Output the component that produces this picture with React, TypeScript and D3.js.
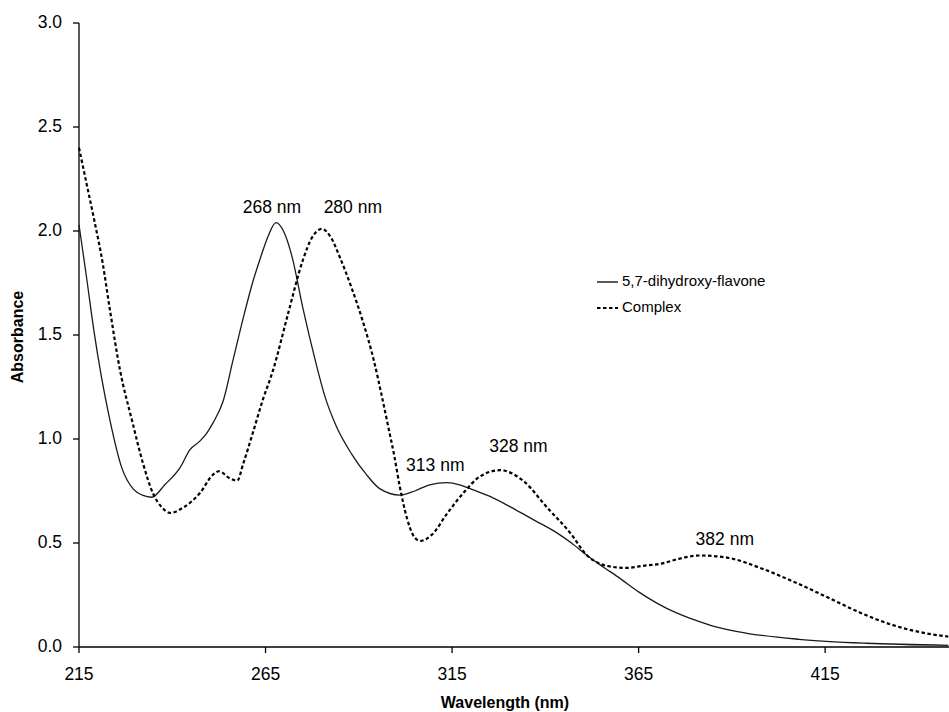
import React from "react";
import * as d3 from "d3";

// 5,7-dihydroxy-flavone (solid line)
const flavoneWl = [215, 217, 219, 221, 223.3, 226.5, 229.5, 232, 234.5, 238, 242, 244.8, 247.4, 249.3, 251, 253.6, 256.3, 259, 261.5, 263.8, 265.8, 267.8, 269.8, 272.2, 275, 278.3, 281, 284, 288, 292, 295.7, 301, 305, 309, 313.6, 317, 320, 325, 331, 337, 343, 347, 351.2, 355.5, 360, 365, 370, 375, 380, 386, 394, 408, 426, 448];
const flavoneAbs = [2.03, 1.78, 1.52, 1.3, 1.09, 0.86, 0.76, 0.73, 0.72, 0.78, 0.86, 0.95, 0.99, 1.03, 1.08, 1.18, 1.38, 1.58, 1.75, 1.88, 1.98, 2.04, 2.0, 1.87, 1.63, 1.38, 1.2, 1.06, 0.93, 0.83, 0.76, 0.73, 0.75, 0.78, 0.79, 0.78, 0.76, 0.725, 0.67, 0.61, 0.55, 0.5, 0.44, 0.385, 0.33, 0.265, 0.21, 0.165, 0.13, 0.095, 0.066, 0.037, 0.018, 0.008];

// Complex (dashed line)
const complexWl = [215, 217, 219, 221.4, 223.3, 226, 229.2, 232.2, 234.8, 237.3, 239.4, 242.9, 247.4, 251, 252.5, 255.5, 257.4, 259, 261.6, 264.3, 267, 271, 275, 277.5, 280.1, 282.5, 285, 288, 291, 294, 296, 298, 299.5, 301, 302.9, 304.5, 306.4, 309.6, 313.6, 318, 322.5, 327.9, 334, 340.5, 346.6, 351.2, 354.7, 358, 361.9, 366, 370.8, 376, 381.5, 388.7, 397.6, 406.4, 415.5, 424.4, 433.2, 442.3, 448];
const complexAbs = [2.4, 2.23, 2.06, 1.84, 1.62, 1.33, 1.09, 0.88, 0.74, 0.67, 0.645, 0.67, 0.74, 0.83, 0.845, 0.81, 0.8, 0.88, 1.03, 1.19, 1.33, 1.6, 1.86, 1.97, 2.01, 1.97, 1.87, 1.73, 1.57, 1.38, 1.22, 1.05, 0.92, 0.77, 0.62, 0.54, 0.51, 0.54, 0.64, 0.74, 0.82, 0.85, 0.8, 0.67, 0.55, 0.44, 0.4, 0.385, 0.38, 0.39, 0.4, 0.425, 0.44, 0.43, 0.38, 0.315, 0.24, 0.165, 0.105, 0.065, 0.05];

const xTicks = [215, 265, 315, 365, 415];
const yTicks = [0, 0.5, 1, 1.5, 2, 2.5, 3];

// peak labels, placed at [wavelength, absorbance]
const peakLabels = ["268 nm", "280 nm", "313 nm", "328 nm", "382 nm"];
const peakWl = [266.7, 288.4, 310.5, 332.8, 388.1];
const peakAbs = [2.085, 2.085, 0.845, 0.937, 0.49];

const legendNames = ["5,7-dihydroxy-flavone", "Complex"];

export default function App() {
  const width = 949;
  const height = 712;

  const x = d3.scaleLinear().domain([215, 448.2]).range([79, 949]);
  const y = d3.scaleLinear().domain([0, 3]).range([647, 23]);

  const line = d3
    .line<[number, number]>()
    .x((d) => x(d[0]))
    .y((d) => y(d[1]))
    .curve(d3.curveMonotoneX);

  const flavone = flavoneWl.map((w, i) => [w, flavoneAbs[i]] as [number, number]);
  const complex = complexWl.map((w, i) => [w, complexAbs[i]] as [number, number]);

  const font = "Arial, 'Liberation Sans', Helvetica, sans-serif";
  const x0 = x(215);
  const y0 = y(0);

  return (
    <svg
      width={width}
      height={height}
      style={{ position: "fixed", left: 0, top: 0, background: "#fff" }}
      fontFamily={font}
    >
      {/* axes */}
      <line x1={x0} y1={y(3)} x2={x0} y2={y0} stroke="#000" strokeWidth={1.3} />
      <line x1={x0} y1={y0} x2={949} y2={y0} stroke="#000" strokeWidth={1.3} />
      {yTicks.map((t) => (
        <g key={"y" + t}>
          <line x1={x0 - 6} x2={x0} y1={y(t)} y2={y(t)} stroke="#000" strokeWidth={1.3} />
          <text x={62} y={y(t)} textAnchor="end" dominantBaseline="middle" fontSize={17.5} fill="#000">
            {t.toFixed(1)}
          </text>
        </g>
      ))}
      {xTicks.map((t) => (
        <g key={"x" + t}>
          <line x1={x(t)} x2={x(t)} y1={y0} y2={y0 + 6} stroke="#000" strokeWidth={1.3} />
          <text x={x(t)} y={680} textAnchor="middle" fontSize={17.5} fill="#000">
            {t}
          </text>
        </g>
      ))}
      <text x={505} y={708} textAnchor="middle" fontSize={16} fontWeight="bold" fill="#000">
        Wavelength (nm)
      </text>
      <text
        transform="translate(23,337) rotate(-90)"
        textAnchor="middle"
        fontSize={16}
        fontWeight="bold"
        fill="#000"
      >
        Absorbance
      </text>

      {/* series */}
      <path d={line(flavone) || ""} fill="none" stroke="#1a1a1a" strokeWidth={1.3} />
      <path d={line(complex) || ""} fill="none" stroke="#000" strokeWidth={2.2} strokeDasharray="3.5,2.5" />

      {/* peak labels */}
      {peakLabels.map((l, i) => (
        <text key={l} x={x(peakWl[i])} y={y(peakAbs[i])} textAnchor="middle" fontSize={17.5} fill="#000">
          {l}
        </text>
      ))}

      {/* legend */}
      {legendNames.map((n, i) => (
        <g key={n} transform={`translate(597,${282 + i * 26})`}>
          <line
            x1={0}
            x2={21}
            y1={0}
            y2={0}
            stroke="#000"
            strokeWidth={i === 0 ? 1.3 : 2.2}
            strokeDasharray={i === 0 ? undefined : "3.5,2.5"}
          />
          <text x={25} y={0} dominantBaseline="middle" fontSize={15} fill="#000">
            {n}
          </text>
        </g>
      ))}
    </svg>
  );
}
